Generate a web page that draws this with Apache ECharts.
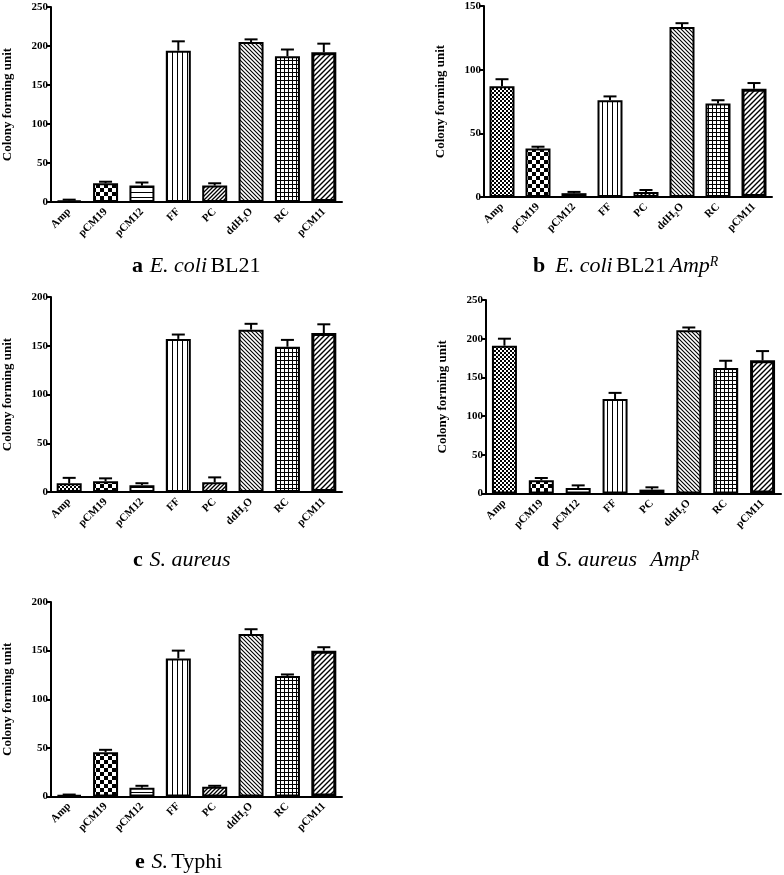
<!DOCTYPE html>
<html>
<head>
<meta charset="utf-8">
<script src="https://cdn.jsdelivr.net/npm/echarts@6/dist/echarts.min.js"></script>
<style>
html,body{margin:0;padding:0;background:#fff;}
#chart{width:784px;height:875px;}
</style>
</head>
<body>
<div id="chart"></div>
<script>
// ---- data ----
const categories = ['Amp', 'pCM19', 'pCM12', 'FF', 'PC', 'ddH2O', 'RC', 'pCM11'];
const valuesA = [2, 24, 21, 194, 21, 205, 187, 192];
const errorsA = [1, 2, 4, 12, 3, 3.5, 8.5, 11];
const valuesB = [87, 38, 3, 76, 4, 133.5, 73.5, 85];
const errorsB = [5.5, 1.5, 1, 3, 1.5, 3, 2.5, 4.5];
const valuesC = [9, 11, 7, 157, 10, 166.5, 149, 163];
const errorsC = [5.5, 3, 2, 4.5, 5, 6, 7, 9];
const valuesD = [191, 17, 7, 122, 5, 211, 162, 172];
const errorsD = [9, 3, 3.5, 8, 3, 3.5, 9.5, 12];
const valuesE = [1.4, 45.5, 9, 142, 10, 167, 124, 150];
const errorsE = [0.6, 2.5, 2, 8, 1, 5, 1.5, 3.5];
const yMaxA = 250, yMaxB = 150, yMaxC = 200, yMaxD = 250, yMaxE = 200;
const yInterval = 50;

// ---- patterns ----
function tile(w, h, draw) {
  const c = document.createElement('canvas');
  c.width = w; c.height = h;
  const g = c.getContext('2d');
  g.fillStyle = '#fff'; g.fillRect(0, 0, w, h);
  g.fillStyle = '#000'; g.strokeStyle = '#000';
  draw(g, w, h);
  return c;
}
function diag(g, s, lw, forward) {
  g.lineWidth = lw;
  g.beginPath();
  if (forward) {
    g.moveTo(-1, s + 1); g.lineTo(s + 1, -1);
    g.moveTo(-1, 1); g.lineTo(1, -1);
    g.moveTo(s - 1, s + 1); g.lineTo(s + 1, s - 1);
  } else {
    g.moveTo(-1, -1); g.lineTo(s + 1, s + 1);
    g.moveTo(s - 1, -1); g.lineTo(s + 1, 1);
    g.moveTo(-1, s - 1); g.lineTo(1, s + 1);
  }
  g.stroke();
}
const patterns = [
  tile(4, 4, g => { g.fillRect(0, 0, 2, 2); g.fillRect(2, 2, 2, 2); }),          // Amp fine check
  tile(8, 8, g => { g.fillRect(0, 0, 4, 4); g.fillRect(4, 4, 4, 4); }),          // pCM19 checkerboard
  tile(5, 5, g => { g.fillRect(0, 2, 5, 1); }),                                  // pCM12 horizontal
  tile(5, 5, g => { g.fillRect(2, 0, 1, 5); }),                                  // FF vertical
  tile(4, 4, (g, w) => diag(g, w, 1.3, true)),                                   // PC forward diag
  tile(4, 4, (g, w) => diag(g, w, 1.1, false)),                                  // ddH2O back diag
  tile(4, 4, g => { g.fillRect(0, 0, 4, 1); g.fillRect(0, 0, 1, 4); }),          // RC grid
  tile(5, 5, (g, w) => diag(g, w, 1.4, true))                                    // pCM11 diag
];

// ---- helpers ----
const FONT = 'Liberation Serif';
function errRender(params, api) {
  const x = api.value(0), v = api.value(1), e = api.value(2);
  const p0 = api.coord([x, v]);
  const p1 = api.coord([x, v + e]);
  const hw = 6.5;
  return {
    type: 'group',
    children: [
      { type: 'line', shape: { x1: p0[0], y1: p0[1], x2: p1[0], y2: p1[1] }, style: { stroke: '#000', lineWidth: 2 } },
      { type: 'line', shape: { x1: p1[0] - hw, y1: p1[1], x2: p1[0] + hw, y2: p1[1] }, style: { stroke: '#000', lineWidth: 2 } }
    ]
  };
}

const panels = [
  { vals: valuesA, errs: errorsA, max: yMaxA, grid: { left: 47, top: 7, width: 295, height: 195 } },
  { vals: valuesB, errs: errorsB, max: yMaxB, grid: { left: 484, top: 6, width: 288, height: 191 } },
  { vals: valuesC, errs: errorsC, max: yMaxC, grid: { left: 47, top: 297, width: 295, height: 195 } },
  { vals: valuesD, errs: errorsD, max: yMaxD, grid: { left: 486, top: 300, width: 295, height: 193.5 } },
  { vals: valuesE, errs: errorsE, max: yMaxE, grid: { left: 47, top: 602, width: 295, height: 194.5 } }
];

const grids = [], xAxes = [], yAxes = [], series = [];
panels.forEach((p, k) => {
  grids.push(p.grid);
  xAxes.push({
    type: 'category', gridIndex: k, data: categories,
    axisLine: { lineStyle: { color: '#000', width: 2 } },
    axisTick: { show: false },
    axisLabel: {
      rotate: 45, margin: 8, color: '#000', interval: 0,
      formatter: v => v === 'ddH2O' ? '{n|ddH}{s|2}{n|O}' : '{n|' + v + '}',
      rich: {
        n: { fontFamily: FONT, fontWeight: 'bold', fontSize: 11, color: '#000' },
        s: { fontFamily: FONT, fontWeight: 'bold', fontSize: 7, color: '#000', padding: [7, 0, 0, 0] }
      }
    }
  });
  yAxes.push({
    type: 'value', gridIndex: k, min: 0, max: p.max, interval: yInterval,
    name: 'Colony forming unit', nameLocation: 'middle', nameGap: 37,
    nameTextStyle: { fontFamily: FONT, fontWeight: 'bold', fontSize: 13, color: '#000' },
    axisLine: { show: true, lineStyle: { color: '#000', width: 2 } },
    axisTick: { show: true, length: 4, lineStyle: { color: '#000', width: 2 } },
    axisLabel: { fontFamily: FONT, fontWeight: 'bold', fontSize: 11, color: '#000', margin: 3 },
    splitLine: { show: false }
  });
  series.push({
    type: 'bar', xAxisIndex: k, yAxisIndex: k, barWidth: 25,
    data: p.vals.map((v, i) => ({
      value: v,
      itemStyle: {
        color: { image: patterns[i], repeat: 'repeat' },
        borderColor: '#000', borderWidth: i === 7 ? 3 : 2
      }
    })),
    animation: false
  });
  series.push({
    type: 'custom', xAxisIndex: k, yAxisIndex: k, z: 5,
    renderItem: errRender,
    encode: { x: 0, y: 1 },
    data: p.vals.map((v, i) => [i, v, p.errs[i]]),
    animation: false
  });
});

const capRich = {
  b: { fontFamily: FONT, fontWeight: 'bold', fontSize: 22, color: '#000' },
  i: { fontFamily: FONT, fontStyle: 'italic', fontSize: 22, color: '#000' },
  n: { fontFamily: FONT, fontSize: 22, color: '#000' },
  sup: { fontFamily: FONT, fontStyle: 'italic', fontSize: 14, color: '#000', padding: [0, 0, 9, 0] }
};
function caption(x, y, text) {
  return { type: 'text', left: x, top: y, style: { text: text, rich: capRich } };
}

const chart = echarts.init(document.getElementById('chart'));
chart.setOption({
  backgroundColor: '#fff',
  animation: false,
  grid: grids,
  xAxis: xAxes,
  yAxis: yAxes,
  series: series,
  graphic: [
    caption(132, 255, '{b|a}  {i|E. coli} {n|BL21}'),
    caption(533, 255, '{b|b}   {i|E. coli} {n|BL21} {i|Amp}{sup|R}'),
    caption(133, 549, '{b|c}  {i|S. aureus}'),
    caption(537, 549, '{b|d}  {i|S. aureus}    {i|Amp}{sup|R}'),
    caption(135, 851, '{b|e}  {i|S.} {n|Typhi}')
  ]
});
</script>
</body>
</html>
